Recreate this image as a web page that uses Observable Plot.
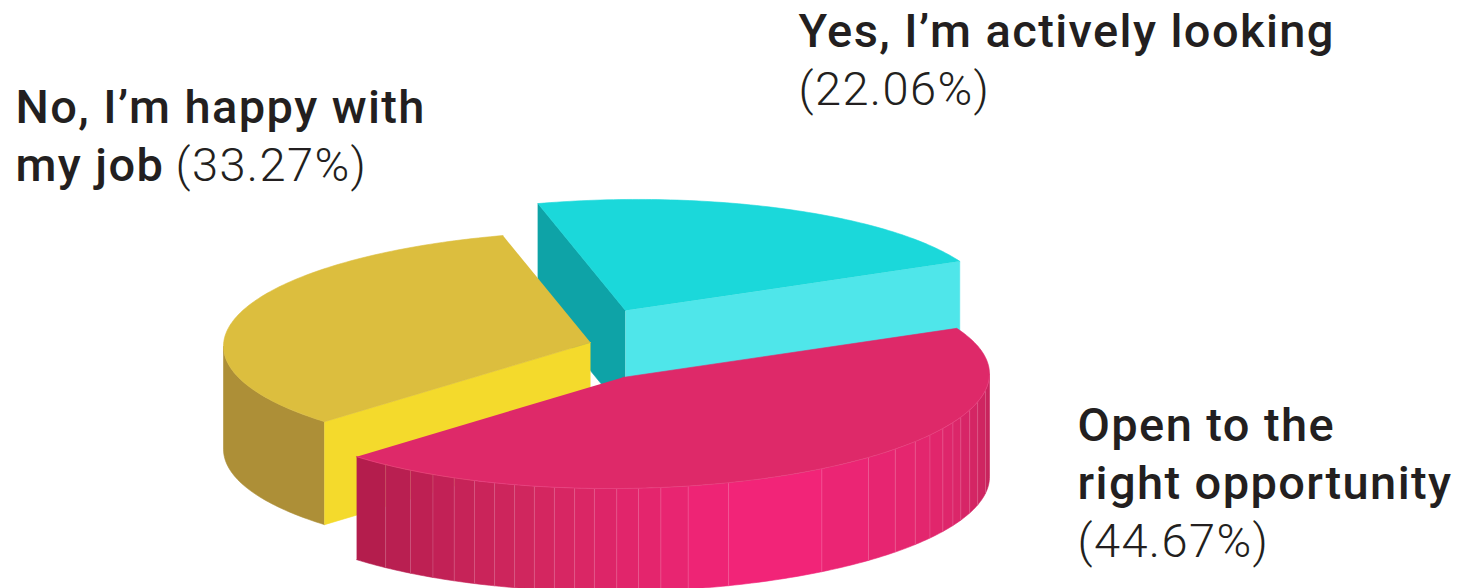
<!DOCTYPE html>
<html>
<head>
<meta charset="utf-8">
<style>
  html, body { margin: 0; padding: 0; background: #fff; }
  svg { display: block; }
  svg text { letter-spacing: 1.4px; }
</style>
<script src="https://cdn.jsdelivr.net/npm/d3@7"></script>
<script src="https://cdn.jsdelivr.net/npm/@observablehq/plot@0.6"></script>
</head>
<body>
<script>
// Survey answers, in clockwise order from the back of the pie
const answers = ["Yes, I’m actively looking", "Open to the right opportunity", "No, I’m happy with my job"];
const shares = [22.06, 44.67, 33.27];

// Angles (degrees) at which the long wall of the largest slice changes facet
const facetAngles = [229.8, 234.7, 238.9, 242.7, 246.2, 249.6, 252.9, 256.1, 259.3, 262.5, 265.6,
  269.1, 272.5, 276, 280.3, 286.8, 302.9, 312.1, 318, 322.9, 326.9, 330.8, 334.2, 337.2, 341.1, 345.4, 351.5];

// Projection of the tilted disc onto the page
const rx = 367, ry = 111, skew = -0.01, depth = 103, firstAngle = 103.8;
const offsets = [[625, 310], [622, 377], [590, 342]];
const palettes = [
  {top: "#1bd8da", wall: "#0ea3a7", front: "#4fe6ea"},
  {top: "#de2969", wall: "#e4276f", front: "#de2969"},
  {top: "#dcbe3e", wall: "#ad8f37", front: "#f4da2c"}
];

const rad = Math.PI / 180;
const rim = ([cx, cy], deg, drop = 0) => ({
  x: cx + rx * Math.cos(deg * rad),
  y: cy - ry * Math.sin(deg * rad) + skew * rx * Math.cos(deg * rad) + drop
});

// Start and end angle of every slice, derived from its share
let cursor = firstAngle;
const slices = shares.map((share, i) => {
  const start = cursor;
  const end = cursor - share * 3.6;
  cursor = end;
  return {share, start, end, centre: offsets[i], colors: palettes[i]};
});

const arc = (s, drop = 0) => {
  const steps = Math.ceil(s.start - s.end);
  return d3.range(steps + 1).map(k => rim(s.centre, s.start + (s.end - s.start) * k / steps, drop));
};
const apex = (s, drop = 0) => ({x: s.centre[0], y: s.centre[1] + drop});
const face = (points, fill) => Plot.line(points, {x: "x", y: "y", fill, stroke: fill, strokeWidth: 0.6});

// A straight cut from the centre to the rim, extruded downward
const cut = (s, deg) => {
  const p = rim(s.centre, deg);
  const q = rim(s.centre, deg, depth);
  return [apex(s), p, q, apex(s, depth)];
};
// The curved outer wall between two angles
const wall = (s, a, b) => {
  const steps = Math.max(1, Math.ceil(Math.abs(b - a)));
  const along = d3.range(steps + 1).map(k => a + (b - a) * k / steps);
  return [...along.map(d => rim(s.centre, d)), ...along.reverse().map(d => rim(s.centre, d, depth))];
};

const [cyan, magenta, yellow] = slices;

// Shaded facets along the front of the largest slice
const wallStart = 360 + magenta.end;
const facetEdges = [wallStart, ...facetAngles, 360];
const facetShade = d3.scaleLinear()
  .domain([226, 256, 290, 330, 360])
  .range(["#b31d4d", "#d2265f", "#f4247a", "#e0266c", "#c4245a"]);
const facets = d3.pairs(facetEdges).flatMap(([a, b], i) =>
  wall(magenta, a, b).map(p => ({...p, id: i, color: facetShade((a + b) / 2)})));
const seams = facetAngles.map(d => {
  const p = rim(magenta.centre, d), q = rim(magenta.centre, d, depth);
  return {x1: p.x, y1: p.y, x2: q.x, y2: q.y};
});
const frontRim = d3.range(wallStart, 361, 2).map(d => rim(magenta.centre, d));

// Label text: bold answer lines and light percentages, the latter read from the shares
const pct = i => `(${shares[i].toFixed(2)}%)`;
const boldLabels = [
  {text: "Yes, I’m actively looking", x: 798, y: 46},
  {text: "No, I’m happy with", x: 15, y: 122},
  {text: "my job", x: 15, y: 180},
  {text: "Open to the", x: 1077, y: 440},
  {text: "right opportunity", x: 1077, y: 498}
];
const lightLabels = [
  {text: pct(0), x: 798, y: 104},
  {text: pct(2), x: 175, y: 180},
  {text: pct(1), x: 1077, y: 556}
];
const textStyle = {x: "x", y: "y", text: "text", fontSize: 47, textAnchor: "start", lineAnchor: "bottom", fill: "#231f20",
  fontFamily: "Roboto, sans-serif"};

const chart = Plot.plot({
  width: 1461,
  height: 588,
  margin: 0,
  x: {domain: [0, 1461], range: [0, 1461], axis: null},
  y: {domain: [0, 588], range: [0, 588], axis: null},
  color: {type: "identity"},
  style: {background: "#fff", overflow: "hidden"},
  marks: [
    // cyan slice
    face(cut(cyan, cyan.start), cyan.colors.wall),
    face(cut(cyan, cyan.end), cyan.colors.front),
    face([apex(cyan), ...arc(cyan)], cyan.colors.top),
    // yellow slice: only the front of its outer wall shows
    face(wall(yellow, 360 + yellow.start, 180), yellow.colors.wall),
    face(cut(yellow, yellow.start), yellow.colors.front),
    face([apex(yellow), ...arc(yellow)], yellow.colors.top),
    // magenta slice
    Plot.line(facets, {x: "x", y: "y", z: "id", fill: "color", stroke: "color", strokeWidth: 0.6}),
    Plot.link(seams, {x1: "x1", y1: "y1", x2: "x2", y2: "y2", stroke: "#fff", strokeOpacity: 0.14, strokeWidth: 1}),
    face([apex(magenta), ...arc(magenta)], magenta.colors.top),
    Plot.line(frontRim, {x: "x", y: "y", stroke: "#f4609a", strokeOpacity: 0.45, strokeWidth: 0.8}),
    // labels
    Plot.text(boldLabels, {...textStyle, fontWeight: 500}),
    Plot.text(lightLabels, {...textStyle, fontWeight: 300})
  ]
});
document.body.appendChild(chart);
</script>
</body>
</html>
